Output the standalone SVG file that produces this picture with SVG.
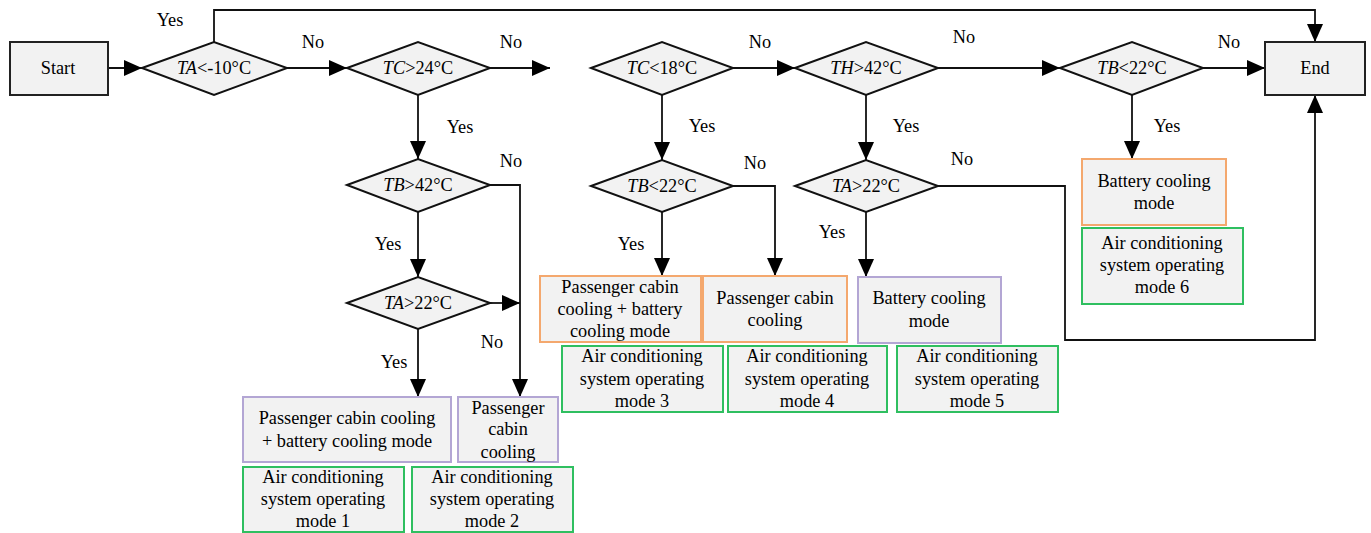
<svg xmlns="http://www.w3.org/2000/svg" width="1371" height="533" viewBox="0 0 1371 533">
<defs>
<marker id="ah" markerUnits="userSpaceOnUse" markerWidth="20" markerHeight="16" refX="18" refY="8" orient="auto">
<path d="M0,0 L18,8 L0,16 Z" fill="#000"/>
</marker>
<style>
text{font-family:"Liberation Serif","Times New Roman",serif;font-size:18.3px;fill:#000;text-anchor:middle;dominant-baseline:central}
.term{fill:#f2f2f2;stroke:#222;stroke-width:2}
.dec{fill:#f2f2f2;stroke:#111;stroke-width:2}
.org{fill:#f2f2f2;stroke:#f4a86e;stroke-width:2}
.pur{fill:#f2f2f2;stroke:#b3a6d4;stroke-width:2}
.grn{fill:#f2f2f2;stroke:#2fbf60;stroke-width:2}
.c{fill:none;stroke:#111;stroke-width:1.8}
.a{marker-end:url(#ah)}
</style>
</defs>
<rect width="1371" height="533" fill="#fff"/>
<g id="connectors">
<path class="c a" d="M108,68 H142"/>
<path class="c a" d="M214,42 V10 H1315 V42"/>
<path class="c a" d="M287,68 H347"/>
<path class="c a" d="M490,68 H550"/>
<path class="c a" d="M418,95 V159"/>
<path class="c a" d="M490,185 H520 V397"/>
<path class="c a" d="M418,212 V277"/>
<path class="c a" d="M490,303 H520"/>
<path class="c a" d="M418,329 V397"/>
<path class="c a" d="M732,68 H795"/>
<path class="c a" d="M662,95 V160"/>
<path class="c a" d="M733,186 H775 V276"/>
<path class="c a" d="M662,212 V276"/>
<path class="c a" d="M938,68 H1060"/>
<path class="c a" d="M866,95 V160"/>
<path class="c a" d="M866,212 V277"/>
<path class="c a" d="M938,186 H1065 V340 H1315 V95"/>
<path class="c a" d="M1203,68 H1265"/>
<path class="c a" d="M1132,95 V159"/>
</g>
<g id="labels">
<text x="170" y="20">Yes</text>
<text x="313" y="42">No</text>
<text x="511" y="42">No</text>
<text x="460" y="127">Yes</text>
<text x="511" y="161">No</text>
<text x="388" y="244">Yes</text>
<text x="492" y="342">No</text>
<text x="394" y="362">Yes</text>
<text x="760" y="42">No</text>
<text x="702" y="126">Yes</text>
<text x="755" y="163">No</text>
<text x="631" y="244">Yes</text>
<text x="964" y="37">No</text>
<text x="906" y="126">Yes</text>
<text x="962" y="159">No</text>
<text x="832" y="232">Yes</text>
<text x="1229" y="42">No</text>
<text x="1167" y="126">Yes</text>
</g>
<g id="start"><rect class="term" x="10" y="42" width="98" height="53"/><text x="58" y="68">Start</text></g>
<g id="end"><rect class="term" x="1265" y="42" width="100" height="53"/><text x="1315" y="68">End</text></g>
<g id="d1"><polygon class="dec" points="142,68 214,42 287,68 214,95"/><text x="214" y="68"><tspan font-style="italic">TA</tspan>&lt;-10°C</text></g>
<g id="d2"><polygon class="dec" points="347,68 418,42 490,68 418,95"/><text x="418" y="68"><tspan font-style="italic">TC</tspan>&gt;24°C</text></g>
<g id="d3"><polygon class="dec" points="347,185 418,159 490,185 418,212"/><text x="418" y="185"><tspan font-style="italic">TB</tspan>&gt;42°C</text></g>
<g id="d4"><polygon class="dec" points="347,303 418,277 490,303 418,329"/><text x="418" y="303"><tspan font-style="italic">TA</tspan>&gt;22°C</text></g>
<g id="d5"><polygon class="dec" points="591,68 662,42 733,68 662,95"/><text x="662" y="68"><tspan font-style="italic">TC</tspan>&lt;18°C</text></g>
<g id="d6"><polygon class="dec" points="591,186 662,160 733,186 662,212"/><text x="662" y="186"><tspan font-style="italic">TB</tspan>&lt;22°C</text></g>
<g id="d7"><polygon class="dec" points="795,68 866,42 938,68 866,95"/><text x="866" y="68"><tspan font-style="italic">TH</tspan>&gt;42°C</text></g>
<g id="d8"><polygon class="dec" points="795,186 866,160 938,186 866,212"/><text x="866" y="186"><tspan font-style="italic">TA</tspan>&gt;22°C</text></g>
<g id="d9"><polygon class="dec" points="1060,68 1132,42 1203,68 1132,95"/><text x="1132" y="68"><tspan font-style="italic">TB</tspan>&lt;22°C</text></g>
<g id="m1a"><rect class="pur" x="243" y="397" width="208" height="65"/><text x="347" y="418">Passenger cabin cooling</text><text x="347" y="441">+ battery cooling mode</text></g>
<g id="m2a"><rect class="pur" x="458" y="397" width="100" height="65"/><text x="508" y="408">Passenger</text><text x="508" y="429">cabin</text><text x="508" y="452">cooling</text></g>
<g id="m1"><rect class="grn" x="243" y="467" width="161" height="65"/><text x="323" y="477">Air conditioning</text><text x="323" y="499">system operating</text><text x="323" y="521">mode 1</text></g>
<g id="m2"><rect class="grn" x="412" y="467" width="161" height="65"/><text x="492" y="477">Air conditioning</text><text x="492" y="499">system operating</text><text x="492" y="521">mode 2</text></g>
<g id="m3a"><rect class="org" x="540" y="276" width="161" height="66"/><text x="620" y="287">Passenger cabin</text><text x="620" y="309">cooling + battery</text><text x="620" y="331">cooling mode</text></g>
<g id="m4a"><rect class="org" x="703" y="276" width="144" height="66"/><text x="775" y="298">Passenger cabin</text><text x="775" y="320">cooling</text></g>
<g id="m5a"><rect class="pur" x="858" y="277" width="143" height="66"/><text x="929" y="298">Battery cooling</text><text x="929" y="321">mode</text></g>
<g id="m3"><rect class="grn" x="562" y="346" width="161" height="66"/><text x="642" y="356">Air conditioning</text><text x="642" y="379">system operating</text><text x="642" y="401">mode 3</text></g>
<g id="m4"><rect class="grn" x="728" y="346" width="159" height="66"/><text x="807" y="356">Air conditioning</text><text x="807" y="379">system operating</text><text x="807" y="401">mode 4</text></g>
<g id="m5"><rect class="grn" x="897" y="346" width="161" height="66"/><text x="977" y="356">Air conditioning</text><text x="977" y="379">system operating</text><text x="977" y="401">mode 5</text></g>
<g id="m6a"><rect class="org" x="1082" y="159" width="144" height="66"/><text x="1154" y="181">Battery cooling</text><text x="1154" y="203">mode</text></g>
<g id="m6"><rect class="grn" x="1082" y="228" width="161" height="76"/><text x="1162" y="243">Air conditioning</text><text x="1162" y="265">system operating</text><text x="1162" y="287">mode 6</text></g>
</svg>
